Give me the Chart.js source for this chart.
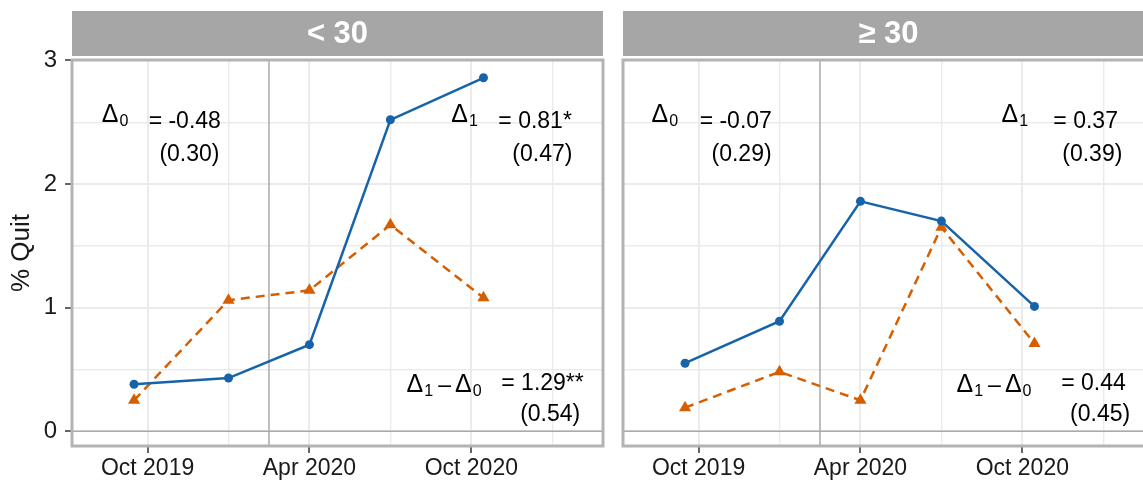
<!DOCTYPE html>
<html>
<head>
<meta charset="utf-8">
<script src="https://cdn.jsdelivr.net/npm/chart.js@4"></script>
<style>
  html, body { margin: 0; padding: 0; background: #fff; overflow: hidden; width: 1143px; height: 482px; }
  canvas { position: absolute; top: 0; }
  #left { left: 0; }
  #right { left: 551px; }
</style>
</head>
<body>
<canvas id="left" width="610" height="482"></canvas>
<canvas id="right" width="610" height="482"></canvas>
<script>
// x is months after Oct 2019
const waves = [-0.5, 3, 6, 9, 12.45];
const panels = ['< 30', '≥ 30'];
const youngTreated = [0.38, 0.43, 0.70, 2.52, 2.86];
const youngControl = [0.25, 1.06, 1.14, 1.67, 1.08];
const olderTreated = [0.55, 0.89, 1.86, 1.70, 1.01];
const olderControl = [0.19, 0.48, 0.25, 1.65, 0.71];
const xTicks = [0, 3, 6, 9, 12, 15];
const xLabels = ['Oct 2019', '', 'Apr 2020', '', 'Oct 2020', ''];
const yTicks = [0, 0.5, 1, 1.5, 2, 2.5, 3];
const yLabels = ['0', '', '1', '', '2', '', '3'];
const delta0 = ['-0.48', '-0.07'];
const delta0Se = ['(0.30)', '(0.29)'];
const delta1 = ['0.81*', '0.37'];
const delta1Se = ['(0.47)', '(0.39)'];
const deltaDiff = ['1.29**', '0.44'];
const deltaDiffSe = ['(0.54)', '(0.45)'];
const policyDate = 4.5; // mid March 2020

const blue = '#1763aa';
const orange = '#d55e00';
const FONT = '"Liberation Sans", Arial, sans-serif';

// where the estimate labels sit, in data units
const notePos = [
  { d0: [-1.70, 2.50], d0Est: [0.04, 2.45], d0Se: [0.44, 2.19],
    d1: [11.26, 2.50], d1Est: [13.0, 2.45], d1Se: [13.52, 2.19],
    dd: [9.60, 0.315], ddEst: [13.11, 0.33], ddSe: [13.81, 0.08] },
  { d0: [-1.74, 2.50], d0Est: [0.04, 2.45], d0Se: [0.48, 2.19],
    d1: [11.23, 2.50], d1Est: [13.15, 2.45], d1Se: [13.48, 2.19],
    dd: [9.56, 0.315], ddEst: [13.44, 0.33], ddSe: [13.77, 0.08] }
];

function drawDelta(ctx, x, y, subs) {
  subs.forEach((s, i) => {
    if (i > 0) {
      ctx.font = '23px ' + FONT;
      x += 5;
      ctx.fillText('–', x, y);
      x += ctx.measureText('–').width + 4;
    }
    ctx.font = '25px ' + FONT;
    ctx.fillText('Δ', x, y);
    x += ctx.measureText('Δ').width + 1;
    ctx.font = '16px ' + FONT;
    ctx.fillText(s, x, y + 4);
    x += ctx.measureText(s).width;
  });
}

const facetDecor = {
  id: 'facetDecor',
  beforeDraw(chart, args, opts) {
    const ctx = chart.ctx, a = chart.chartArea;
    ctx.save();
    ctx.fillStyle = '#a6a6a6';
    ctx.fillRect(a.left, 11, a.right - a.left, 45);
    ctx.fillStyle = '#fff';
    ctx.font = 'bold 31px ' + FONT;
    ctx.textAlign = 'center';
    ctx.textBaseline = 'middle';
    ctx.fillText(opts.title, (a.left + a.right) / 2, 34);
    ctx.restore();
  },
  beforeDatasetsDraw(chart) {
    const ctx = chart.ctx, a = chart.chartArea;
    const x = chart.scales.x.getPixelForValue(policyDate);
    const y0 = chart.scales.y.getPixelForValue(0);
    ctx.save();
    ctx.strokeStyle = '#aaaaaa';
    ctx.lineWidth = 1.5;
    ctx.beginPath();
    ctx.moveTo(x, a.top); ctx.lineTo(x, a.bottom);
    ctx.moveTo(a.left, y0); ctx.lineTo(a.right, y0);
    ctx.stroke();
    ctx.restore();
  },
  afterDatasetsDraw(chart, args, opts) {
    const ctx = chart.ctx, a = chart.chartArea;
    const sx = chart.scales.x, sy = chart.scales.y;
    const p = opts.pos, k = opts.idx;
    const px = v => sx.getPixelForValue(v[0]);
    const py = v => sy.getPixelForValue(v[1]);
    ctx.save();
    ctx.fillStyle = '#000';
    ctx.textAlign = 'left';
    ctx.textBaseline = 'alphabetic';
    drawDelta(ctx, px(p.d0), py(p.d0), ['0']);
    drawDelta(ctx, px(p.d1), py(p.d1), ['1']);
    drawDelta(ctx, px(p.dd), py(p.dd), ['1', '0']);
    ctx.font = '23px ' + FONT;
    ctx.fillText('= ' + delta0[k], px(p.d0Est), py(p.d0Est));
    ctx.fillText(delta0Se[k], px(p.d0Se), py(p.d0Se));
    ctx.fillText('= ' + delta1[k], px(p.d1Est), py(p.d1Est));
    ctx.fillText(delta1Se[k], px(p.d1Se), py(p.d1Se));
    ctx.fillText('= ' + deltaDiff[k], px(p.ddEst), py(p.ddEst));
    ctx.fillText(deltaDiffSe[k], px(p.ddSe), py(p.ddSe));
    // panel border on top
    ctx.strokeStyle = '#b3b3b3';
    ctx.lineWidth = 3;
    ctx.strokeRect(a.left, a.top, a.right - a.left, a.bottom - a.top);
    ctx.restore();
  }
};

function makePanel(id, k, treated, control, showY) {
  return new Chart(document.getElementById(id), {
    type: 'line',
    data: {
      datasets: [{
        data: waves.map((x, i) => ({ x: x, y: treated[i] })),
        borderColor: blue,
        backgroundColor: blue,
        borderWidth: 2.5,
        pointStyle: 'circle',
        pointRadius: 4.5,
        pointBorderWidth: 0,
        tension: 0
      }, {
        data: waves.map((x, i) => ({ x: x, y: control[i] })),
        borderColor: orange,
        backgroundColor: orange,
        borderWidth: 2.5,
        borderDash: [9, 6],
        pointStyle: 'triangle',
        pointRadius: 7,
        pointBorderWidth: 0,
        tension: 0
      }]
    },
    options: {
      responsive: false,
      animation: false,
      layout: { padding: { top: 60, right: 5, left: 0, bottom: 0 } },
      plugins: {
        legend: { display: false },
        tooltip: { enabled: false },
        facetDecor: { title: panels[k], pos: notePos[k], idx: k }
      },
      scales: {
        x: {
          type: 'linear',
          min: -2.8,
          max: 16.88,
          afterBuildTicks: s => { s.ticks = xTicks.map(v => ({ value: v })); },
          afterFit: s => { s.height = 36; },
          border: { display: false },
          grid: {
            color: '#ebebeb',
            lineWidth: c => (c.tick && c.tick.value % 6 === 0) ? 2 : 1.4,
            tickColor: c => (c.tick && c.tick.value % 6 === 0) ? '#333' : 'rgba(0,0,0,0)',
            tickLength: 7,
            tickWidth: 1.5
          },
          ticks: {
            autoSkip: false,
            maxRotation: 0,
            padding: 2,
            color: '#1a1a1a',
            font: { family: FONT, size: 23 },
            callback: (v, i) => xLabels[i]
          }
        },
        y: {
          min: -0.12,
          max: 3.004,
          afterBuildTicks: s => { s.ticks = yTicks.map(v => ({ value: v })); },
          afterFit: s => { s.width = 72; },
          border: { display: false },
          grid: {
            color: '#ebebeb',
            lineWidth: c => (c.tick && Number.isInteger(c.tick.value)) ? 2 : 1.4,
            tickColor: c => (showY && c.tick && Number.isInteger(c.tick.value)) ? '#333' : 'rgba(0,0,0,0)',
            tickLength: 7,
            tickWidth: 1.5
          },
          ticks: {
            padding: 8,
            color: '#1a1a1a',
            font: { family: FONT, size: 24 },
            callback: (v, i) => showY ? yLabels[i] : ''
          },
          title: {
            display: showY,
            text: '% Quit',
            color: '#1a1a1a',
            font: { family: FONT, size: 26 },
            padding: { top: 6, bottom: 0 }
          }
        }
      }
    },
    plugins: [facetDecor]
  });
}

makePanel('left', 0, youngTreated, youngControl, true);
makePanel('right', 1, olderTreated, olderControl, false);
</script>
</body>
</html>
